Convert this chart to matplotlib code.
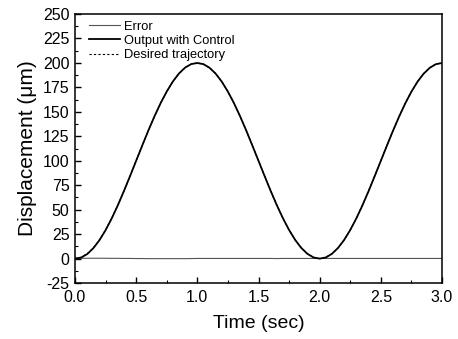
import numpy as np
import matplotlib
matplotlib.use("Agg")
import matplotlib.pyplot as plt
from matplotlib.ticker import MultipleLocator

plt.rcParams['font.family'] = ['Liberation Sans', 'DejaVu Sans']
plt.rcParams['axes.unicode_minus'] = False

# Time samples (sec) and values
time = [0.00, 0.05, 0.10, 0.15, 0.20, 0.25, 0.30, 0.35, 0.40, 0.45, 0.50,
        0.55, 0.60, 0.65, 0.70, 0.75, 0.80, 0.85, 0.90, 0.95, 1.00,
        1.05, 1.10, 1.15, 1.20, 1.25, 1.30, 1.35, 1.40, 1.45, 1.50,
        1.55, 1.60, 1.65, 1.70, 1.75, 1.80, 1.85, 1.90, 1.95, 2.00,
        2.05, 2.10, 2.15, 2.20, 2.25, 2.30, 2.35, 2.40, 2.45, 2.50,
        2.55, 2.60, 2.65, 2.70, 2.75, 2.80, 2.85, 2.90, 2.95, 3.00]
desired = [0.0, 1.2, 4.9, 10.9, 19.1, 29.3, 41.2, 54.6, 69.1, 84.4, 100.0,
           115.6, 130.9, 145.4, 158.8, 170.7, 180.9, 189.1, 195.1, 198.8, 200.0,
           198.8, 195.1, 189.1, 180.9, 170.7, 158.8, 145.4, 130.9, 115.6, 100.0,
           84.4, 69.1, 54.6, 41.2, 29.3, 19.1, 10.9, 4.9, 1.2, 0.0,
           1.2, 4.9, 10.9, 19.1, 29.3, 41.2, 54.6, 69.1, 84.4, 100.0,
           115.6, 130.9, 145.4, 158.8, 170.7, 180.9, 189.1, 195.1, 198.8, 200.0]
output = [0.0, 1.0, 4.6, 10.6, 18.8, 29.0, 41.0, 54.4, 69.0, 84.3, 100.0,
          115.6, 131.0, 145.5, 158.9, 170.8, 181.0, 189.2, 195.2, 198.8, 199.9,
          198.7, 195.0, 189.0, 180.8, 170.6, 158.7, 145.3, 130.8, 115.5, 99.9,
          84.3, 69.0, 54.5, 41.1, 29.2, 19.0, 10.8, 4.8, 1.1, -0.1,
          1.1, 4.8, 10.8, 19.0, 29.2, 41.1, 54.5, 69.0, 84.3, 99.9,
          115.5, 130.8, 145.3, 158.7, 170.6, 180.8, 189.0, 195.0, 198.7, 199.9]
error = [0.0, 0.2, 0.3, 0.3, 0.3, 0.3, 0.2, 0.2, 0.1, 0.1, 0.0,
         0.0, -0.1, -0.1, -0.1, -0.1, -0.1, -0.1, -0.1, 0.0, 0.1,
         0.1, 0.1, 0.1, 0.1, 0.1, 0.1, 0.1, 0.1, 0.1, 0.1,
         0.1, 0.1, 0.0, 0.1, 0.1, 0.1, 0.1, 0.1, 0.1, 0.1,
         0.1, 0.1, 0.1, 0.1, 0.1, 0.1, 0.1, 0.1, 0.1, 0.1,
         0.1, 0.1, 0.1, 0.1, 0.1, 0.1, 0.1, 0.1, 0.1, 0.1]

x_ticks = [0.0, 0.5, 1.0, 1.5, 2.0, 2.5, 3.0]
y_ticks = [-25, 0, 25, 50, 75, 100, 125, 150, 175, 200, 225, 250]

fig = plt.figure(figsize=(4.58, 3.39), dpi=100)
ax = fig.add_axes([75/458, 1 - 283/339, (442-75)/458, (283-14)/339])

ax.plot(time, error, color='#555555', lw=0.8, label='Error')
ax.plot(time, output, color='black', lw=1.3, label='Output with Control')
ax.plot(time, desired, color='black', lw=0.8, ls=(0, (2, 2)), label='Desired trajectory')

ax.set_xlim(0, 3.0)
ax.set_ylim(-25, 250)
ax.set_xticks(x_ticks)
ax.set_xticklabels([f"{v:.1f}" for v in x_ticks])
ax.set_yticks(y_ticks)
ax.xaxis.set_minor_locator(MultipleLocator(0.25))
ax.yaxis.set_minor_locator(MultipleLocator(12.5))
ax.tick_params(which='both', direction='in', top=False, right=False, labelsize=11.5)
ax.tick_params(axis='x', pad=5)
ax.tick_params(axis='y', pad=4)
ax.tick_params(which='major', length=4, width=1)
ax.tick_params(which='minor', length=2, width=0.8)
for s in ax.spines.values():
    s.set_linewidth(1.1)

ax.set_xlabel('Time (sec)', fontsize=14, labelpad=7)
ax.set_ylabel('Displacement (μm)', fontsize=15, labelpad=4)

ax.legend(loc='upper left', frameon=False, fontsize=9.3, handlelength=2.4,
          handletextpad=0.25, labelspacing=0.18, borderaxespad=0.0,
          bbox_to_anchor=(0.025, 0.995))

fig.savefig('out.png', dpi=100)
